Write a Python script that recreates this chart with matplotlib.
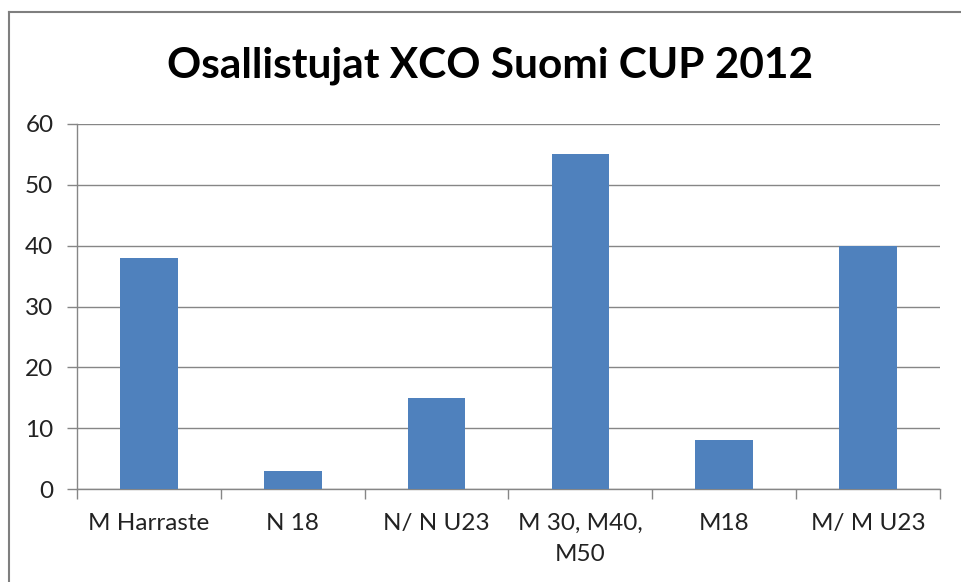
import numpy as np
import matplotlib
import matplotlib.pyplot as plt
from matplotlib.lines import Line2D

matplotlib.use('Agg')

# participants per class
categories = ["M Harraste", "N 18", "N/ N U23", "M 30, M40,\nM50", "M18", "M/ M U23"]
participants = [38, 3, 15, 55, 8, 40]

plt.rcParams['font.family'] = ['Lato', 'DejaVu Sans']

fig = plt.figure(figsize=(9.61, 5.82), dpi=100)
ax = fig.add_axes([77/961, 1 - 489/582, (940 - 77)/961, (489 - 124)/582])

x = np.arange(len(categories))
ax.bar(x, participants, width=0.4, color='#4F81BD', zorder=3)

ax.set_xlim(-0.5, len(categories) - 0.5)
ax.set_ylim(0, 60)
ax.set_yticks(range(0, 61, 10))
ax.set_xticks(x)
ax.set_xticklabels(categories, fontsize=17.5, color='#222222', linespacing=1.6)
ax.set_xticks(np.arange(-0.5, len(categories)), minor=True)
ax.tick_params(axis='x', which='major', length=0, pad=17)
ax.tick_params(axis='x', which='minor', length=7, color='#868686', width=1)
ax.tick_params(axis='y', length=7, color='#868686', width=1, labelsize=17.5,
               labelcolor='#222222', pad=10)
ax.grid(axis='y', color='#868686', linewidth=1, zorder=0)

for s in ['top', 'right']:
    ax.spines[s].set_visible(False)
for s in ['left', 'bottom']:
    ax.spines[s].set_color('#868686')
    ax.spines[s].set_linewidth(1)

fig.text(490/961, 1 - 66/582, "Osallistujat XCO Suomi CUP 2012",
         ha='center', va='center', fontsize=30.5, fontweight='bold')

# chart border (only left and top visible in the crop)
fig.add_artist(Line2D([9/961, 9/961], [0, 1 - 12/582], color='#7f7f7f', linewidth=1.5))
fig.add_artist(Line2D([9/961, 1], [1 - 12/582, 1 - 12/582], color='#7f7f7f', linewidth=1.5))

fig.savefig("out.png", dpi=100)
